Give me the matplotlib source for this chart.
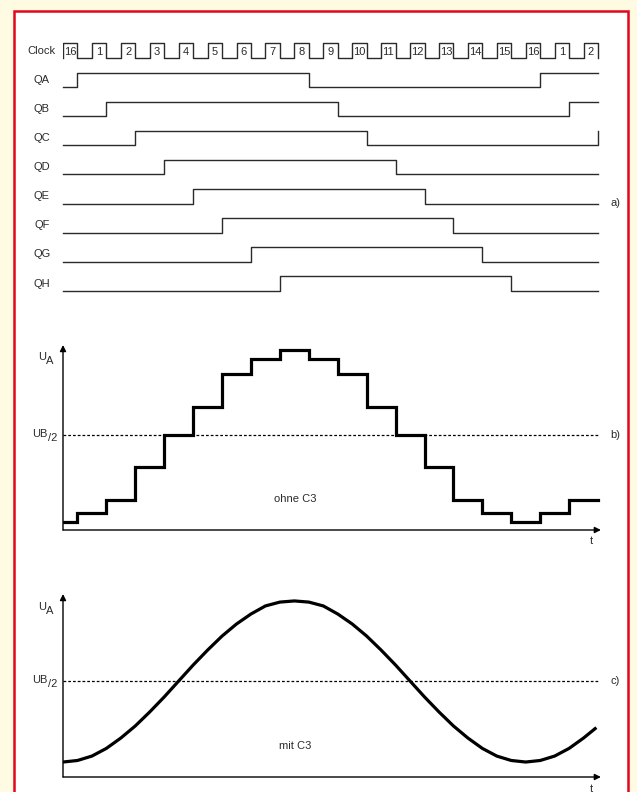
import matplotlib.pyplot as plt
from matplotlib.patches import Rectangle

plt.rcParams['font.family'] = ['Liberation Sans', 'DejaVu Sans']

# clock pulses (one per period)
clock_labels = ['16', '1', '2', '3', '4', '5', '6', '7', '8', '9', '10',
                '11', '12', '13', '14', '15', '16', '1', '2']
t_end = 18.5

# counter outputs, switching times in clock periods
q_names = ['QA', 'QB', 'QC', 'QD', 'QE', 'QF', 'QG', 'QH']
q_rise = [0.5, 1.5, 2.5, 3.5, 4.5, 5.5, 6.5, 7.5]
q_fall = [8.5, 9.5, 10.5, 11.5, 12.5, 13.5, 14.5, 15.5]
q_rise_again = [16.5, 17.5, 18.5, None, None, None, None, None]

# output level for 0..8 outputs high (UB/2 = 5)
stair_levels = [0.4, 0.9, 1.6, 3.3, 5.0, 6.5, 8.2, 9.0, 9.5]
ub_half = 5.0

# filtered output, read every half period
smooth_t = [0, 0.5, 1, 1.5, 2, 2.5, 3, 3.5, 4, 4.5, 5, 5.5, 6, 6.5, 7, 7.5, 8,
            8.5, 9, 9.5, 10, 10.5, 11, 11.5, 12, 12.5, 13, 13.5, 14, 14.5, 15,
            15.5, 16, 16.5, 17, 17.5, 18, 18.4]
smooth_u = [0.78, 0.86, 1.09, 1.49, 2.03, 2.66, 3.39, 4.17, 5.0, 5.83, 6.61,
            7.34, 7.97, 8.49, 8.91, 9.11, 9.17, 9.11, 8.91, 8.49, 7.97, 7.34,
            6.61, 5.83, 5.0, 4.17, 3.39, 2.66, 2.03, 1.49, 1.09, 0.86, 0.78,
            0.86, 1.09, 1.49, 2.03, 2.52]

W, H = 637, 792
sx = 28.92  # px per clock period
fig = plt.figure(figsize=(W / 100, H / 100), dpi=100)
fig.patch.set_facecolor('#FFFBE2')
fig.patches.append(Rectangle((14 / W, -0.02), 614 / W, 1.02 - 11 / H,
                             transform=fig.transFigure, facecolor='white',
                             edgecolor='#E2071C', lw=1.8, zorder=-1))


def px_axes(top, height):
    ax = fig.add_axes([63 / W, 1 - (top + height) / H, 18.6 * sx / W, height / H])
    ax.set_xlim(0, 18.6)
    ax.axis('off')
    return ax


def edges_for(i):
    e = [q_rise[i], q_fall[i]]
    if q_rise_again[i] is not None:
        e.append(q_rise_again[i])
    return e


def wave(edges):
    xs, ys, lvl = [0], [0], 0
    for e in edges:
        xs += [e, e]
        ys += [lvl, 1 - lvl]
        lvl = 1 - lvl
    xs.append(t_end)
    ys.append(lvl)
    return xs, ys


txt = dict(fontsize=8, color='#2a2a2a')
line_c = '#2a2a2a'

# a) timing diagram
row_h = 29.1
ax = px_axes(30, 270)
ax.set_ylim(-(300 - 58) / row_h, (58 - 30) / row_h)
cx, cy = [], []
for i, lab in enumerate(clock_labels):
    cx += [i, i, i + 0.5, i + 0.5]
    cy += [0, 0.5, 0.5, 0]
    if i < len(clock_labels) - 1:
        cx.append(i + 1)
        cy.append(0)
    ax.text(i + 0.25, 0.22, lab, ha='center', va='center', **txt)
ax.plot(cx, cy, color=line_c, lw=1.0)
ax.text(-0.73, 0.25, 'Clock', ha='center', va='center', **txt)
for r, name in enumerate(q_names, start=1):
    xs, ys = wave(edges_for(r - 1))
    ax.plot(xs, [-r + 0.5 * y for y in ys], color=line_c, lw=1.0,
            clip_on=False)
    ax.text(-0.73, -r + 0.25, name, ha='center', va='center', **txt)
ax.text(18.92, -5.0, 'a)', ha='left', va='center', **txt)


def level_at(t):
    n = 0
    for i in range(len(q_names)):
        n += sum(1 for e in edges_for(i) if e <= t) % 2
    return stair_levels[n]


def sub_label(ax, x, y, main, sub):
    ax.text(x, y, main, ha='right', va='center', **txt)
    ax.annotate(sub, xy=(x, y), xytext=(0.5, -4), textcoords='offset pixels',
                ha='left', va='center', annotation_clip=False, **txt)


def axes_frame(ax, top_u, ua_u):
    arr = dict(arrowstyle='-|>', color='black', lw=1.0, mutation_scale=9,
               shrinkA=0, shrinkB=0)
    ax.annotate('', xy=(0, top_u), xytext=(0, 0), arrowprops=arr)
    ax.annotate('', xy=(18.6, 0), xytext=(0, 0), arrowprops=arr)
    ax.plot([0, t_end], [ub_half, ub_half], color='black', lw=0.9,
            ls=(0, (2.2, 1.6)))
    sub_label(ax, -0.59, ua_u, 'U', 'A')
    sub_label(ax, -0.55, ub_half + 0.05, 'UB', '/2')
    ax.text(18.26, -0.6, 't', ha='center', va='center', **txt)


# b) staircase without C3
ax = px_axes(345, 185)
ax.set_ylim(0, 185 / 19.0)
steps = sorted({0} | {e for i in range(len(q_names)) for e in edges_for(i) if e < t_end})
sy = [level_at(t) for t in steps]
ax.step(steps + [t_end], sy + [sy[-1]], where='post', color='black', lw=2.3,
        solid_joinstyle='miter')
axes_frame(ax, 185 / 19.0, 9.13)
ax.text(8.02, 1.63, 'ohne C3', ha='center', va='center', **txt)
ax.text(18.92, ub_half, 'b)', ha='left', va='center', **txt)

# c) smoothed with C3
ax = px_axes(594, 183)
ax.set_ylim(0, 183 / 19.2)
ax.plot(smooth_t, smooth_u, color='black', lw=2.3, solid_joinstyle='round')
axes_frame(ax, 183 / 19.2, 8.88)
ax.text(8.02, 1.61, 'mit C3', ha='center', va='center', **txt)
ax.text(18.92, ub_half, 'c)', ha='left', va='center', **txt)

fig.savefig('out.png', dpi=100)
